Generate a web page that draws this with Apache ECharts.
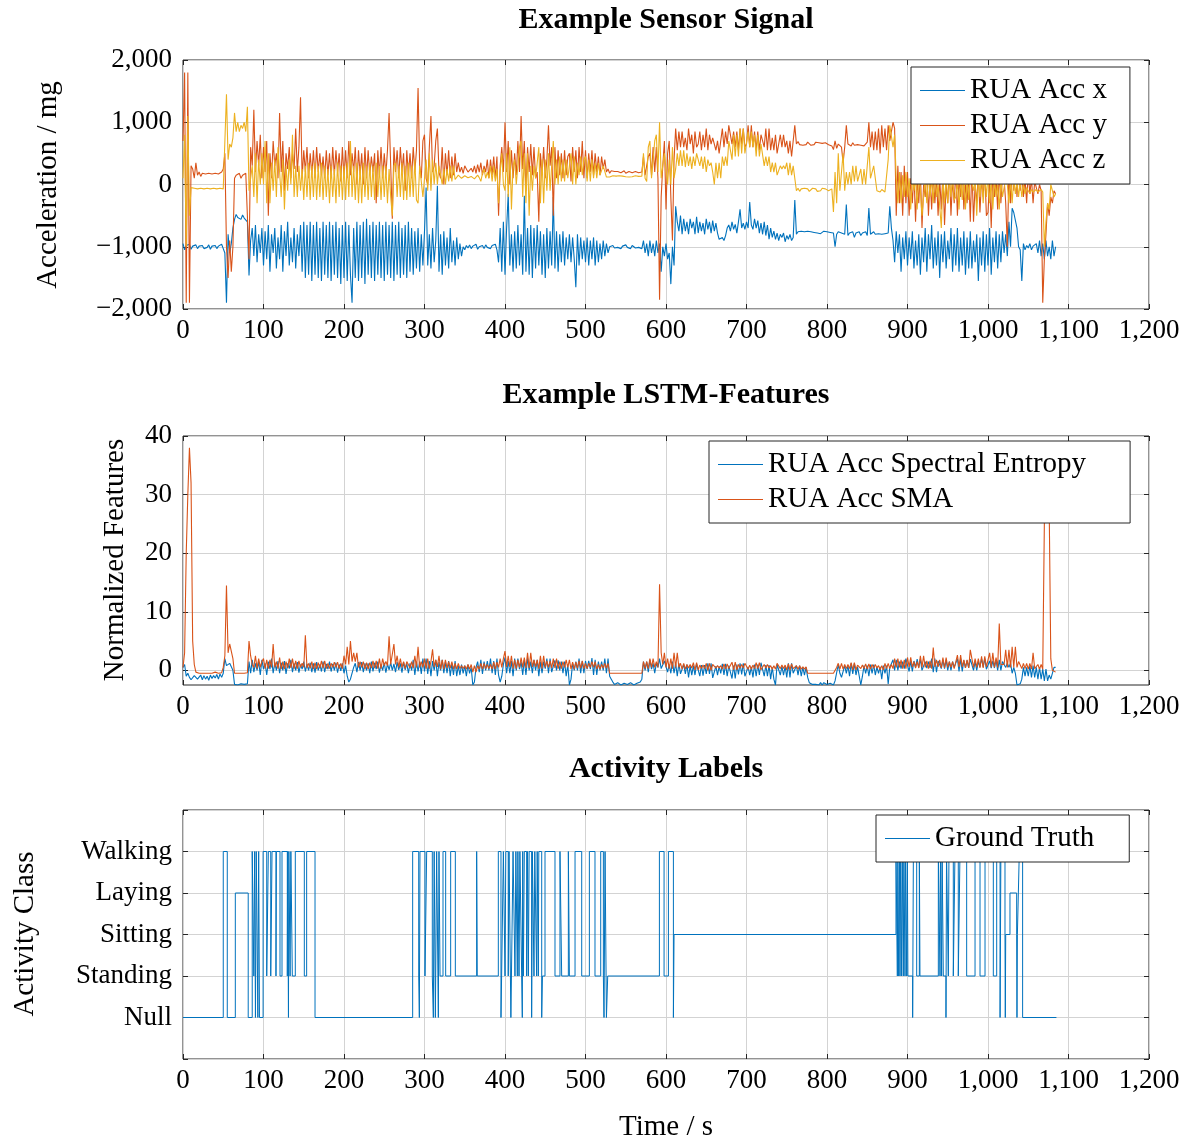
<!DOCTYPE html>
<html><head><meta charset="utf-8">
<script src="https://cdn.jsdelivr.net/npm/echarts@6/dist/echarts.min.js"></script>
<style>html,body{margin:0;padding:0;background:#fff}#c{width:1192px;height:1144px}</style>
</head><body><div id="c"></div>
<script>
// ---- data ----
const ACC_DT = 2;   // seconds between acceleration samples
const FEAT_DT = 2;  // seconds between feature samples
const accX = [
-950,-1050,-980,-1010,-960,-1040,-990,-1020,-970,-1030,
-990,-1020,-980,-1030,-1000,-1010,-970,-1040,-990,-1010,
-980,-1030,-990,-1010,-960,-1030,-1100,-1900,-800,-1100,
-950,-700,-560,-480,-530,-500,-560,-490,-540,-510,
-600,-1460,-900,-700,-1150,-650,-1250,-800,-1100,-700,
-1300,-750,-1200,-650,-1400,-800,-1100,-700,-1350,-850,
-1200,-650,-1400,-750,-1150,-600,-1300,-850,-1250,-700,
-1350,-800,-1150,-650,-1400,-600,-1500,-650,-1450,-600,
-1550,-650,-1450,-600,-1500,-700,-1550,-600,-1450,-650,
-1500,-600,-1550,-650,-1450,-600,-1500,-700,-1600,-650,
-1500,-600,-1550,-650,-1450,-1900,-700,-1500,-600,-1550,
-650,-1500,-600,-1600,-550,-1450,-650,-1500,-600,-1550,
-650,-1450,-600,-1500,-650,-1550,-600,-1450,-650,-1500,
-600,-1550,-650,-1450,-600,-1500,-700,-1450,-650,-1500,
-600,-1400,-700,-1450,-750,-1350,-700,-1400,-800,-1300,
-750,-50,-1300,-800,-1350,-700,-1250,-900,-20,-1400,
-800,-1450,-750,-1300,-850,-1350,-700,-1250,-900,-1300,
-850,-1200,-950,-1150,-1000,-1050,-980,-1020,-970,-1030,
-990,-1010,-960,-1040,-1000,-1020,-980,-1030,-970,-1010,
-990,-1030,-980,-1010,-960,-1050,-1250,-700,-1400,-600,
-1450,-700,-150,-1300,-800,-1400,-750,-1350,-650,-1300,
-800,-1450,-180,-1400,-700,-1450,-650,-1500,-700,-1350,
-650,-1300,-750,-1450,-800,-1500,-700,-1350,-750,-1300,
-200,-1350,-750,-1400,-800,-1250,-750,-1300,-850,-1200,
-800,-1250,-850,-1200,-1650,-800,-1300,-850,-1200,-900,
-1250,-850,-1300,-900,-1200,-850,-1300,-900,-1250,-950,
-1200,-900,-1150,-950,-1100,-1000,-1030,-980,-1020,-990,
-1010,-980,-1030,-990,-1020,-970,-1010,-990,-1030,-980,
-1000,-1020,-990,-1010,-980,-1030,-900,-1100,-950,-1150,
-900,-1100,-950,-1150,-900,-1100,-950,-1400,-1000,-1150,
-950,-1200,-1100,-1600,-1000,-1300,-350,-600,-750,-500,
-800,-550,-750,-600,-800,-550,-700,-600,-800,-520,
-780,-600,-750,-620,-800,-550,-720,-600,-780,-580,
-750,-620,-780,-880,-900,-850,-900,-820,-700,-650,
-750,-600,-720,-640,-780,-600,-400,-700,-620,-720,
-600,-700,-280,-650,-720,-550,-700,-580,-780,-620,
-800,-600,-820,-650,-880,-700,-850,-750,-880,-780,
-900,-800,-850,-780,-920,-820,-880,-800,-900,-850,
-250,-800,-760,-790,-750,-780,-760,-790,-750,-780,
-760,-790,-770,-750,-780,-760,-790,-770,-750,-780,
-760,-790,-770,-800,-780,-1000,-800,-760,-790,-780,
-760,-800,-320,-820,-780,-800,-760,-850,-780,-800,
-760,-820,-780,-800,-760,-820,-380,-800,-780,-760,
-800,-770,-790,-760,-800,-770,-790,-760,-780,-350,
-700,-900,-1250,-750,-1100,-800,-1400,-850,-1200,-750,
-1300,-850,-1200,-750,-1350,-900,-1300,-800,-1450,-850,
-1250,-700,-1400,-800,-1200,-650,-1350,-850,-1300,-750,
-1500,-800,-1250,-750,-1350,-900,-1200,-700,-1400,-800,
-1300,-700,-1400,-850,-1300,-750,-1450,-850,-1350,-750,
-1350,-900,-1250,-800,-1550,-850,-1300,-750,-1400,-800,
-1300,-700,-1450,-850,-1250,-750,-1350,-800,-1250,-750,
-1100,-800,-1150,-600,-1000,-380,-450,-420,-700,-1000,
-1050,-1550,-950,-1050,-980,-1020,-950,-1050,-990,-1010,
-950,-1100,-900,-1150,-950,-1200,-900,-1150,-1000,-1200,
-900,-1150,-1000];
const accY = [
700,1800,-1900,1800,-1900,300,250,100,350,150,
200,130,180,150,170,140,180,150,170,140,
180,150,170,160,200,250,500,-1000,-1500,-900,
-1400,-1000,100,150,120,180,100,150,120,180,
150,-1200,600,300,1200,200,700,300,800,100,
600,200,700,-500,500,100,700,300,500,100,
1150,200,700,-100,500,250,600,100,500,250,
900,200,600,1400,100,550,200,600,100,500,
150,550,100,600,200,500,150,450,100,550,
150,500,100,600,150,550,200,500,50,600,
100,550,100,700,150,500,200,600,0,550,
150,500,0,600,100,550,150,450,200,500,
-300,550,150,600,100,500,150,550,1150,300,
-550,600,200,550,100,600,200,500,-100,550,
150,500,100,600,200,550,1550,300,100,700,
800,100,0,600,1100,200,300,700,900,200,
100,600,0,500,150,550,100,450,150,500,
200,350,200,280,180,300,250,200,180,260,
200,300,180,320,200,350,150,300,200,400,
100,400,150,450,100,450,-500,300,600,200,
1000,200,700,0,550,100,500,150,700,200,
1100,250,700,-100,600,200,650,150,600,100,
200,-600,500,150,600,100,400,950,300,600,
-500,600,100,550,150,500,100,550,150,450,
500,50,600,200,550,100,600,200,700,100,
550,100,500,200,550,150,500,200,450,150,
450,250,400,200,250,180,220,190,210,180,
210,180,190,220,220,180,180,210,200,190,
170,210,210,190,190,200,450,150,150,450,
500,150,600,200,600,100,-1850,-200,300,700,
-400,500,700,-200,-900,400,900,550,850,600,
850,600,750,550,900,650,800,500,850,600,
650,850,550,800,600,900,550,800,650,750,
750,550,700,500,700,900,600,850,650,950,
950,650,850,600,850,550,900,650,900,600,
650,950,600,950,600,850,550,850,550,800,
800,600,900,550,900,550,750,550,800,500,
500,800,600,800,600,700,500,700,450,700,
950,650,690,640,670,630,660,640,680,650,
630,660,640,680,650,670,640,660,650,670,
670,640,660,620,560,700,580,650,620,600,
350,600,950,650,680,620,670,630,660,640,
670,630,660,620,640,680,1000,600,850,550,
850,550,900,500,950,600,900,550,950,700,
700,1000,900,-500,300,-300,200,-500,300,-300,
200,-500,100,-300,200,-600,100,-300,250,-700,
0,-200,300,-500,100,-400,200,-300,150,-500,
100,-400,200,-650,0,-300,250,-500,100,-300,
250,-500,100,-200,300,-400,0,-300,200,-600,
300,-600,0,-300,200,-450,100,-200,250,-500,
-450,100,-700,250,-200,100,-400,200,-300,150,
100,-300,-1000,200,-300,300,-100,400,-200,300,
-100,200,-200,100,-300,200,-150,100,-300,50,
50,-150,0,-100,-1900,-1200,-800,-300,-500,-200,
-300,-100,-150];
const accZ = [
100,800,-1000,1100,-500,-50,-30,-60,-40,-70,
-40,-60,-50,-70,-40,-60,-30,-70,-50,-60,
-40,-70,-50,-60,-40,-70,-50,1450,400,650,
600,750,1150,850,1000,850,950,900,1000,850,
1250,-100,-100,300,-200,500,-300,400,0,500,
0,700,-300,500,-300,350,-100,400,-200,600,
600,-200,400,-400,300,-100,400,0,800,-200,
300,-200,300,-100,250,-250,300,-200,350,-250,
300,-200,350,-250,300,-200,350,-250,300,-200,
250,-300,300,-200,250,-300,350,-200,300,-250,
300,-250,350,-200,700,-200,300,-250,350,-300,
300,-300,350,-200,300,-250,350,-200,300,-250,
350,-200,300,-250,300,-200,300,-300,250,-200,
-500,300,350,-200,300,-200,350,-250,300,-250,
350,-200,300,-200,400,-250,-300,300,300,-200,
-200,400,-100,500,-100,400,0,350,0,300,
300,0,250,0,250,50,300,50,300,80,
80,150,150,100,100,140,140,110,110,130,
130,90,120,150,110,50,180,250,100,200,
100,300,50,300,50,250,-300,200,500,0,
-100,500,-200,600,-400,300,400,0,300,600,
700,-200,500,-300,500,-500,300,-100,300,100,
100,600,-300,400,-300,400,-100,500,-100,300,
700,0,400,0,450,50,400,50,400,100,
100,500,0,450,0,350,150,450,150,400,
450,50,400,50,400,100,350,100,350,150,
150,300,300,120,140,120,130,140,120,135,
125,140,120,135,130,125,140,120,130,125,
125,140,140,130,130,135,500,100,50,600,
700,100,100,700,800,200,1000,100,100,500,
500,0,400,0,600,100,250,500,300,550,
300,550,280,500,300,450,250,450,300,500,
500,300,450,250,450,200,400,300,350,200,
0,350,100,350,100,450,300,450,300,700,
700,400,800,450,800,450,900,500,900,500,
500,850,600,850,600,800,450,800,450,650,
650,300,450,300,450,200,350,200,350,150,
150,300,250,300,250,350,150,350,150,300,
300,-100,-60,-110,-70,-100,-60,-90,-70,-110,
-100,-60,-90,-70,-110,-80,-100,-60,-90,-70,
-80,-100,-110,-70,-440,200,-300,500,-100,200,
500,-100,200,0,200,0,300,50,300,50,
50,250,0,250,0,300,600,100,100,300,
300,-100,-80,-120,-80,-110,-120,-90,400,950,
950,600,800,100,-300,200,-300,150,-200,200,
-200,100,-400,150,-100,100,-400,150,-100,-500,
-500,100,-300,200,-200,100,-300,200,-200,0,
0,-700,100,-300,150,-300,100,-200,150,-250,
-200,50,-400,100,-250,150,-400,100,-250,150,
150,-100,100,-500,100,-200,150,-300,150,-200,
150,-300,50,-400,100,-200,0,-400,100,-200,
-200,100,0,-300,100,-300,100,-150,50,-200,
50,-200,0,-150,-50,-100,-150,-80,-120,-100,
-80,-120,-100,-80,-120,-1000,-600,-300,-400,0,
0,-200,-150];
const spectralEntropy = [
0.5,1.0,-1.0,-0.5,-1.2,-1.6,-1.5,-0.9,-0.8,-1.5,
-1.4,-0.8,-1.6,-0.9,-1.5,-1.0,-1.7,-0.8,-1.4,-0.9,
-1.3,-0.7,-1.5,-0.6,-1.2,-0.5,2.0,0.8,0.5,1.2,
1.0,0.0,-2.4,-2.3,-2.5,-2.4,-2.3,-2.5,-2.4,-2.3,
-2.3,1.5,-0.5,1.8,-0.3,1.2,0,1.5,-0.8,1.8,
0.2,1.2,-0.8,1.5,0.2,2.0,-0.5,1.3,0,1.6,
-0.5,1.3,0,1.6,-0.6,1.2,0.3,1.8,-0.3,1.2,
0,1.4,-0.4,1.0,0.2,1.5,-0.2,1.1,0,1.3,
-0.3,1.2,-0.4,1.4,0,1.0,-0.2,1.5,-0.3,1.1,
0.2,1.5,-0.2,1.1,0,1.3,-0.4,1.0,-0.1,1.2,
-0.5,0.8,-1.0,-2.0,-1.5,-1.8,0.5,1.2,-0.3,1.4,
0,1.4,-0.3,1.2,0,1.2,-0.5,1.5,-0.2,1.3,
0.2,1.5,-0.4,1.0,0,1.3,-0.4,1.1,0.1,1.3,
0,1.1,-0.3,1.4,0.1,1.2,-0.4,1.4,0.1,1.2,
-0.5,1.2,0,1.8,-0.8,1.5,-0.2,1.5,-0.6,2.0,
-0.2,2.0,-0.6,1.6,-1.0,1.6,0,1.8,-1.0,1.4,
0,1.8,-0.5,1.4,-0.5,1.6,-1.0,1.2,-0.8,1.6,
-1.0,0.8,-0.8,1.0,-0.5,0.8,-1.0,1.0,-0.5,0.5,
-2.5,-2.0,0.5,1.5,-0.3,1.8,-0.6,1.5,0,1.6,
0,2.0,-0.5,1.6,-0.8,2.0,-0.8,-2.0,-1.0,1.0,
2.2,-0.5,1.6,-0.5,1.6,-1.0,2.0,0,2.0,0.2,
1.5,-0.8,1.8,-0.8,2.1,0,1.5,-0.5,1.8,0,
1.8,-1.0,1.5,-0.5,1.5,0.3,2.0,-0.5,2.0,-0.3,
-0.5,1.7,0,1.7,0,1.5,-0.5,1.5,-1.0,1.0,
-2.5,-1.5,1.2,0,1.5,0,2.0,-0.5,1.6,-0.5,
1.6,0.2,1.6,0.2,2.1,-0.8,1.8,-0.8,1.5,0,
1.5,0,2.0,-0.5,2.0,-1.0,-1.5,-2.0,-2.4,-2.2,
-2.1,-2.4,-2.5,-2.2,-2.2,-2.5,-2.4,-2.1,-2.1,-2.4,
-2.5,-2.2,-2.2,-2.5,-2.0,-1.5,1.5,0,1.5,-0.3,
1.8,0.2,1.2,-0.5,1.2,0.5,2.0,0.3,0.5,1.6,
1.8,-0.3,1.0,-0.5,1.5,-0.5,1.2,-1.0,1.2,-0.6,
-0.5,1.0,-0.6,1.0,-1.2,0.8,-0.8,0.8,-0.8,1.1,
1.3,-1.0,0.9,-0.9,0.9,-0.6,1.2,-0.6,1.2,-1.3,
-1.3,0.7,-0.8,0.7,-0.5,1.1,-0.8,1.1,-1.0,0.8,
0.8,-1.4,0.8,-1.4,1.0,-0.7,1.2,-0.7,1.2,-1.0,
-1.0,0.6,-0.8,0.6,-1.2,1.0,-1.0,1.0,-0.8,1.3,
1.3,-1.0,0.9,-1.0,0.9,-1.5,0.5,-1.5,-2.5,1.0,
1.0,-0.8,0.7,-0.8,0.7,-1.2,1.2,-1.2,1.2,-0.5,
-0.5,0.8,-0.8,0.8,-1.0,0.5,-0.8,0.5,-1.2,-2.1,
-2.1,-2.4,-2.2,-2.4,-2.2,-2.5,-2.1,-2.5,-2.1,-2.4,
-2.4,-2.2,-2.2,-2.5,-2.5,-1.8,-1.5,1.0,-0.5,-1.2,
-1.2,0.8,-0.5,0.8,-1.0,1.2,-0.6,1.2,-0.8,0.6,
0.6,-2.5,-1.0,0.8,-0.5,0.8,-1.0,1.0,-0.5,1.0,
-0.8,0.6,-0.5,0.6,-1.5,0.8,-0.5,0.8,-2.3,0.5,
0.5,1.8,0,1.8,0,1.5,0.3,1.5,0.3,2.0,
2.0,-0.2,1.6,-0.2,1.6,0.5,1.9,0.5,1.9,0,
0,1.5,0.4,1.5,0.4,2.0,-0.3,2.0,-0.3,1.6,
1.6,0.3,1.8,0.3,1.8,0,1.5,0,1.5,0.5,
0.5,2.0,-0.2,2.0,-0.2,1.7,0.4,1.7,0.4,1.9,
1.9,0,1.5,0,1.5,0.6,2.0,0.6,2.0,0.2,
0.2,1.6,0.4,1.6,0.4,1.8,0,1.8,0,1.5,
1.5,0.5,1.2,0.5,1.2,-0.5,0.5,-0.5,-2.5,-2.3,
-2.3,-1.5,0.5,-1.0,0.5,-1.0,0.8,-1.2,0.8,-1.2,
0.5,-1.5,0.5,-1.5,0.2,-1.8,0.2,-1.8,-0.8,-1.5,
-1.5,0.5,0.5];
const sma = [
0.5,3,20,30,38,32,5,1,-0.3,-0.5,
-0.5,-0.3,-0.5,-0.4,-0.5,-0.3,-0.5,-0.4,-0.5,-0.3,
-0.3,-0.5,-0.5,-0.4,-0.4,0.5,2.5,14.5,3,4.5,
4.5,2.0,-0.5,-0.5,-0.5,-0.5,-0.5,-0.5,-0.5,-0.5,
-0.4,5,2.5,1,0.5,2.5,0.3,2.0,0.5,1.5,
2.0,0.3,1.8,0.3,1.8,0.5,4.5,0.5,1.5,0.3,
2.2,0.2,1.5,0.2,1.5,0.4,2.0,0.4,2.0,0.3,
1.6,0.3,1.6,0.5,1.2,0.5,6.0,0.4,1.2,0.4,
1.5,0.2,1.3,0.2,1.3,0.4,1.6,0.4,1.6,0.3,
1.2,0.3,1.2,0.5,1.4,0.5,1.4,0.3,1.2,0.3,
2.5,1.0,4.0,1.0,5.0,1.5,3.0,1.5,3.0,0.5,
1.5,0.5,1.5,0.2,1.3,0.2,1.3,0.4,1.6,0.4,
1.6,0.3,2.0,0.3,2.0,0.8,1.5,0.8,5.8,1.0,
1.0,4.5,1.0,2.5,0.5,2.0,0.5,1.5,0.3,1.5,
1.5,0.4,1.5,0.4,2.5,0.5,4.0,0.5,1.5,0.5,
2.0,0.3,2.0,0.3,1.5,3.6,0.6,1.8,0.6,2.5,
0.2,1.8,0.2,1.8,0.4,1.5,0.4,1.5,0.2,1.2,
0.2,1.2,0.3,0.8,0.3,0.8,0.2,1.0,0.2,1.0,
-0.3,0.8,-0.3,0.8,0.2,1.2,0.2,1.2,0.3,1.0,
0.3,1.0,0.2,1.4,0.2,1.4,0.5,2.0,0.5,2.0,
3.3,0.6,2.5,0.6,2.5,0.3,1.8,0.3,1.8,0.5,
2.2,0.5,2.2,0.4,3.0,0.4,3.0,0.6,1.8,0.6,
1.8,0.3,2.5,0.3,2.5,0.5,1.6,0.5,1.6,0.4,
2.0,0.4,2.0,0.3,1.5,0.3,1.5,0.5,1.8,0.5,
1.8,0.2,1.4,0.2,1.4,0.4,1.6,0.4,1.6,0.3,
1.2,0.3,1.2,0.5,1.5,0.5,1.5,0.2,1.0,0.2,
1.0,0.4,1.2,0.4,1.2,-0.5,-0.5,-0.5,-0.5,-0.5,
-0.5,-0.5,-0.5,-0.5,-0.5,-0.5,-0.5,-0.5,-0.5,-0.5,
-0.5,-0.5,-0.5,-0.5,-0.5,-0.5,1.5,0.3,1.5,0.3,
2.0,0.5,2.0,0.5,1.5,0.5,14.7,3.0,1.0,3.0,
0.5,2.0,0.3,2.0,0.3,3.0,0.5,3.0,0.5,1.2,
0.2,1.2,0.2,1.0,0.4,1.0,0.4,1.3,0.1,1.3,
0.1,0.9,0.3,0.9,0.3,1.2,0,1.2,0,1.0,
1.0,0.4,0.8,0.4,0.8,0.2,1.1,0.2,1.1,0.3,
0.3,1.4,0.1,1.4,0.1,1.0,0.4,1.0,0.4,1.2,
1.2,0.2,0.9,0.2,0.9,0.3,1.3,0.3,1.3,0.1,
0.1,1.0,0.4,1.0,0.4,0.8,0.2,0.8,0.2,1.2,
1.2,0.3,0.9,0.3,0.9,0.1,1.1,0.1,1.1,0.3,
0.3,0.8,0.2,0.8,0.2,0.6,0.2,0.6,-0.5,-0.5,
-0.5,-0.5,-0.5,-0.5,-0.5,-0.5,-0.5,-0.5,-0.5,-0.5,
-0.5,-0.5,-0.5,-0.5,-0.5,-0.5,0.5,1.2,0.2,1.2,
0.2,1.0,0.3,1.0,0.3,1.3,0.1,1.3,0.1,0.9,
0.9,0.3,0.9,0.3,1.1,0.2,1.1,0.2,1.0,0.4,
1.0,0.4,0.8,0.1,0.8,0.1,1.2,0.3,1.2,0.3,
1.0,0.3,2.0,0.5,2.0,0.5,1.8,0.3,1.8,0.3,
2.2,0.6,2.2,0.6,1.5,0.4,1.5,0.4,2.5,0.5,
2.5,0.5,1.6,0.3,1.6,0.3,3.9,0.6,1.8,0.6,
1.8,0.4,2.2,0.4,2.2,0.5,1.5,0.5,1.5,0.3,
0.3,2.6,0.6,2.6,0.6,1.8,0.4,1.8,0.4,3.5,
3.5,0.5,2.0,0.5,2.0,0.4,2.4,0.4,2.4,0.6,
0.6,3.0,0.5,3.0,0.5,2.2,0.5,8.0,1.0,1.0,
1.0,3.5,0.5,3.5,0.5,4.0,0.5,4.0,0.5,1.5,
1.5,0.3,1.2,0.3,1.2,0.2,1.2,0.2,3.0,0.3,
0.3,1.0,0.2,1.0,0.2,25,33,30,28,2,
0,-0.3,-0.3];
// Ground truth: change points (time in s) and class index held until next change
const gtTime = [0,50,55,65,81,86,88,89,90,91,93,94,95,99.5,104,106,109,110.6,115.5,116,120.5,123,129.6,130,131,131.5,133,134,135.8,139.5,150.7,153.6,164,
285.3,292.8,293.6,294.4,300.6,302.7,309.7,311,312,313.5,315.1,317.2,318,319.3,323,326.3,332.5,338.3,364.8,365.5,
391.7,395,395.8,398,400,401,404,405,407.3,408,410,412.4,413.5,415.3,416,417.4,418.5,420.7,421.5,422,422.8,424,426.9,428,429,430,433.1,434,436,437,439.3,440,441.4,442,445.6,446.5,449.7,462.1,468.3,470.4,478.7,480,487,495.3,504.8,511.8,518.9,522.2,523,524.3,526,527.6,
591.8,597.6,603,609.2,610,
885.7,887.4,888,889,890,890.7,891.5,892.7,893.5,894.8,895.5,896.9,897.5,899,899.8,900.5,906.4,907.3,911.4,914.7,915.5,938.3,940.4,941,942.4,943,944.5,947.8,948.5,950.7,951.5,956.9,959,963.1,965.2,973.5,983.9,990.1,996.3,1006.6,1010.8,1015,1016,1021.1,1021.5,1022,1027.3,1035.6,1036,1036.5,1038.9,1043,1085];
const gtClass = [0,4,0,3,0,4,1,4,0,4,0,4,0,4,1,4,1,4,1,4,1,4,1,4,0,4,1,4,1,4,1,4,0,
4,1,0,4,1,4,1,0,4,0,4,0,4,1,4,1,4,1,4,1,
4,0,1,4,1,4,1,4,0,1,4,1,4,1,4,1,4,1,0,4,1,4,1,4,1,4,0,4,1,4,1,4,1,4,0,1,4,1,4,1,4,1,4,1,4,1,4,1,0,4,0,1,
4,1,4,0,2,
4,1,4,1,4,1,4,1,4,1,4,1,4,1,4,1,0,4,1,4,1,4,1,4,1,4,1,0,4,1,4,1,4,1,4,1,4,1,4,1,4,0,4,2,0,2,3,2,0,2,4,0,0];
const classNames = ['Null','Standing','Sitting','Laying','Walking'];
const timeTicks = {min:0, max:1200, step:100};
const accTicks = {min:-2000, max:2000, step:1000};
const featureTicks = [0,10,20,30,40];
const featureRange = {min:-2.5, max:40};

// ---- chart ----
const SERIF = '"Liberation Serif","Times New Roman",serif';
const BLUE = '#0072BD', RED = '#D95319', YEL = '#EDB120';
const FRAME = '#262626', GRIDC = '#d3d3d3';
const pairs = (arr, dt) => arr.map((v,i)=>[i*dt, v]);
const thousands = v => { const s = Math.abs(v).toLocaleString('en-US'); return v < 0 ? '\u2212' + s : s; };
const G = [{top:60},{top:436},{top:810}];
const grid = G.map(g => ({left:183, top:g.top, width:966, height:249, show:true, borderColor:FRAME, borderWidth:1, backgroundColor:'transparent'}));
const lbl = {fontFamily:SERIF, fontSize:27, color:'#000'};
const tick = {inside:true, length:5, lineStyle:{color:FRAME}};
const xAxis = [], yAxis = [];
for (let g=0; g<3; g++) {
  xAxis.push({gridIndex:g, type:'value', position:'bottom', min:timeTicks.min, max:timeTicks.max, interval:timeTicks.step,
    axisLine:{show:false, onZero:false}, axisTick:Object.assign({}, tick),
    axisLabel:Object.assign({margin:8, formatter:thousands}, lbl),
    splitLine:{show:true, lineStyle:{color:GRIDC, width:1}}});
  xAxis.push({gridIndex:g, type:'value', position:'top', min:timeTicks.min, max:timeTicks.max, interval:timeTicks.step,
    axisLine:{show:false, onZero:false}, axisTick:Object.assign({}, tick), axisLabel:{show:false}, splitLine:{show:false}});
}
function yPair(g, base, label) {
  const left = Object.assign({gridIndex:g, type:'value', position:'left', axisLine:{show:false, onZero:false},
    axisTick:Object.assign({}, tick, base.tick||{}),
    axisLabel:Object.assign({margin:11}, lbl, label),
    splitLine:{show:true, lineStyle:{color:GRIDC, width:1}}}, base.axis);
  const right = Object.assign({gridIndex:g, type:'value', position:'right', axisLine:{show:false, onZero:false},
    axisTick:Object.assign({}, tick, base.tick||{}),
    axisLabel:{show:false}, splitLine:{show:false}}, base.axis);
  yAxis.push(left, right);
}
yPair(0, {axis:{min:accTicks.min, max:accTicks.max, interval:accTicks.step}}, {formatter:thousands});
yPair(1, {axis:{min:featureRange.min, max:featureRange.max}, tick:{customValues:featureTicks}}, {customValues:featureTicks, formatter:v=>String(v)});
yPair(2, {axis:{min:-1, max:5, interval:1}}, {formatter:v => classNames[v] || ''});

const lineSeries = (name, data, color, xi, yi, width, extra) => Object.assign({
  type:'line', name, data, xAxisIndex:xi, yAxisIndex:yi, symbol:'none', showSymbol:false,
  lineStyle:{width, color}, itemStyle:{color}, emphasis:{disabled:true}, silent:true, animation:false}, extra||{});

const series = [
  lineSeries('RUA Acc x', pairs(accX, ACC_DT), BLUE, 0, 0, 1.1),
  lineSeries('RUA Acc y', pairs(accY, ACC_DT), RED, 0, 0, 1.1),
  lineSeries('RUA Acc z', pairs(accZ, ACC_DT), YEL, 0, 0, 1.1),
  lineSeries('RUA Acc Spectral Entropy', pairs(spectralEntropy, FEAT_DT), BLUE, 2, 2, 1.1),
  lineSeries('RUA Acc SMA', pairs(sma, FEAT_DT), RED, 2, 2, 1.1),
  lineSeries('Ground Truth', gtTime.map((t,i)=>[t, gtClass[i]]), BLUE, 4, 4, 1, {step:'end'})
];

const legTxt = {fontFamily:SERIF, fontSize:29, color:'#000'};
const legendBase = {orient:'vertical', backgroundColor:'#fff', borderColor:FRAME, borderWidth:1, borderRadius:0,
  icon:'rect', itemWidth:45, itemHeight:1, itemGap:6, textStyle:legTxt, selectedMode:false};
const legend = [
  Object.assign({}, legendBase, {data:['RUA Acc x','RUA Acc y','RUA Acc z'], left:911, top:67, padding:[9,23,9,9]}),
  Object.assign({}, legendBase, {data:['RUA Acc Spectral Entropy','RUA Acc SMA'], left:709, top:441, padding:[9,44,9,9]}),
  Object.assign({}, legendBase, {data:['Ground Truth'], left:876, top:815, padding:[9,35,9,9]})
];

const titleStyle = {fontFamily:SERIF, fontSize:30, fontWeight:'bold', color:'#000'};
const title = [
  {text:'Example Sensor Signal', left:666, top:5, textAlign:'center', padding:0, textStyle:titleStyle},
  {text:'Example LSTM-Features', left:666, top:380, textAlign:'center', padding:0, textStyle:titleStyle},
  {text:'Activity Labels', left:666, top:754, textAlign:'center', padding:0, textStyle:titleStyle}
];
const nameFont = {fontFamily:SERIF, fontSize:29, fill:'#000', textAlign:'center', textVerticalAlign:'middle'};
const graphic = [
  {type:'text', x:48, y:185, rotation:Math.PI/2, style:Object.assign({text:'Acceleration / mg'}, nameFont)},
  {type:'text', x:115, y:560, rotation:Math.PI/2, style:Object.assign({text:'Normalized Features'}, nameFont)},
  {type:'text', x:25, y:934, rotation:Math.PI/2, style:Object.assign({text:'Activity Class'}, nameFont)},
  {type:'text', x:666, y:1127, style:Object.assign({text:'Time / s'}, nameFont)}
];

const chart = echarts.init(document.getElementById('c'), null, {renderer:'canvas'});
chart.setOption({animation:false, backgroundColor:'#fff', title, grid, xAxis, yAxis, series, legend, graphic});
</script></body></html>
